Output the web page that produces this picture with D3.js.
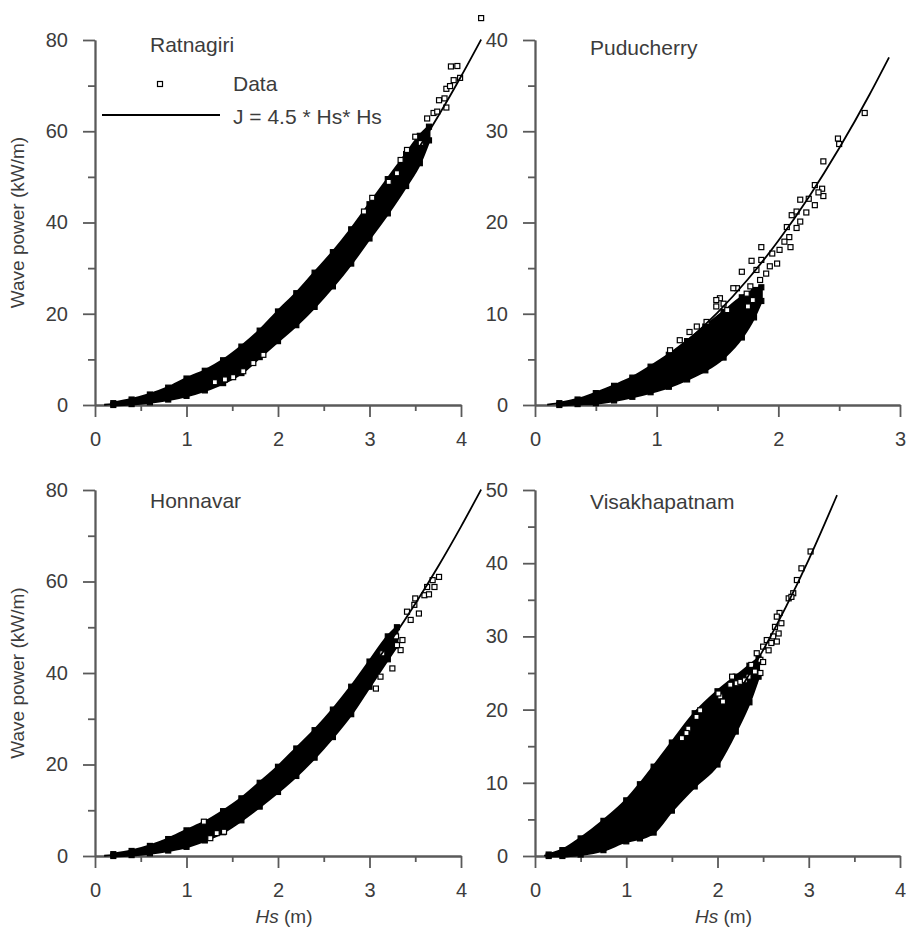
<!DOCTYPE html>
<html>
<head>
<meta charset="utf-8">
<script src="https://cdnjs.cloudflare.com/ajax/libs/d3/7.8.5/d3.min.js"></script>
<style>
  body { margin: 0; background: #fff; }
  text { font-family: "Liberation Sans", Arial, sans-serif; }
</style>
</head>
<body>
<div id="chart"></div>
<script>
// fitted curve J = 4.5 * Hs * Hs
var fitHs4 = [0.1, 0.25, 0.5, 0.75, 1, 1.25, 1.5, 1.75, 2, 2.25, 2.5, 2.75, 3, 3.25, 3.5, 3.75, 4, 4.22];
var fitJ4  = [0.05, 0.28, 1.13, 2.53, 4.5, 7.03, 10.13, 13.78, 18, 22.78, 28.13, 34.03, 40.5, 47.53, 55.13, 63.28, 72, 80.1];
var fitHsPud = [0.1, 0.25, 0.5, 0.75, 1, 1.25, 1.5, 1.75, 2, 2.25, 2.5, 2.75, 2.91];
var fitJPud  = [0.05, 0.28, 1.13, 2.53, 4.5, 7.03, 10.13, 13.78, 18, 22.78, 28.13, 34.03, 38.1];
var fitHsVis = [0.1, 0.25, 0.5, 0.75, 1, 1.25, 1.5, 1.75, 2, 2.25, 2.5, 2.75, 3, 3.31];
var fitJVis  = [0.05, 0.28, 1.13, 2.53, 4.5, 7.03, 10.13, 13.78, 18, 22.78, 28.13, 34.03, 40.5, 49.3];

// dense part of the data cloud : lower / upper edge
var ratBandHs   = [0.2, 0.4, 0.6, 0.8, 1.0, 1.2, 1.4, 1.6, 1.8, 2.0, 2.2, 2.4, 2.6, 2.8, 3.0, 3.2, 3.4, 3.55, 3.65];
var ratBandLow  = [0, 0.2, 0.6, 1.2, 2.0, 3.2, 4.8, 7.0, 10.5, 14, 17.5, 21.5, 26, 31, 36.5, 42, 48, 53, 58];
var ratBandHigh = [0.4, 1.2, 2.3, 3.8, 5.8, 7.5, 9.8, 12.8, 16.3, 20.5, 24.5, 29, 33.5, 38.5, 44, 49.5, 55, 59, 61];

var pudBandHs   = [0.2, 0.35, 0.5, 0.65, 0.8, 0.95, 1.1, 1.25, 1.4, 1.55, 1.7, 1.8, 1.86];
var pudBandLow  = [0, 0.1, 0.2, 0.5, 0.9, 1.4, 2.0, 2.8, 3.8, 5.2, 7.4, 9.6, 11.4];
var pudBandHigh = [0.2, 0.6, 1.3, 2.1, 3.0, 4.2, 5.5, 7.0, 8.6, 10.2, 11.8, 12.6, 12.9];

var honBandHs   = [0.2, 0.4, 0.6, 0.8, 1.0, 1.2, 1.4, 1.6, 1.8, 2.0, 2.2, 2.4, 2.6, 2.8, 3.0, 3.2, 3.3];
var honBandLow  = [0, 0.2, 0.6, 1.2, 2.0, 3.4, 5.2, 7.8, 10.8, 14, 17.5, 21.5, 26, 31, 37, 43, 46];
var honBandHigh = [0.4, 1.1, 2.2, 3.7, 5.6, 7.4, 9.8, 12.6, 16, 19.5, 23.5, 27.5, 32, 37, 42.5, 48, 50];

var visBandHs   = [0.15, 0.3, 0.5, 0.75, 1.0, 1.15, 1.3, 1.5, 1.75, 2.0, 2.2, 2.35, 2.45];
var visBandLow  = [0, 0, 0.2, 0.8, 2.0, 2.4, 3.2, 6.2, 9.5, 12.5, 17, 21, 24.5];
var visBandHigh = [0.2, 0.8, 2.4, 4.8, 7.6, 9.8, 12.2, 15.5, 19.5, 22.5, 24.5, 26, 27];

// scattered points
var ratHs = [4.22, 3.89, 3.96, 3.92, 3.99, 3.84, 3.88, 3.76, 3.82, 3.84, 3.70, 3.74, 3.63, 3.50, 3.56, 3.41, 3.34, 3.21, 3.30, 3.03, 2.94, 1.51, 1.31, 1.73, 1.84, 1.42, 1.62];
var ratJ  = [84.8, 74.2, 74.3, 71.2, 71.7, 69.3, 69.9, 66.8, 67.2, 65.2, 64.0, 64.3, 62.8, 58.8, 57.4, 55.9, 53.7, 48.9, 50.8, 45.4, 42.4, 6.1, 5.0, 9.2, 11.0, 5.6, 7.4];

var pudHs = [2.71, 2.49, 2.50, 2.37, 2.30, 2.36, 2.37, 2.33, 2.18, 2.25, 2.30, 2.23, 2.11, 2.15, 2.18, 2.15, 2.07, 2.09, 2.05, 2.10, 1.86, 1.78, 2.01, 1.95, 1.99, 1.93, 1.86, 1.90, 1.85, 1.82, 1.70, 1.66, 1.74, 1.77, 1.79, 1.75, 1.52, 1.49, 1.55, 1.58, 1.19, 1.11, 1.27, 1.33, 1.41, 1.49, 1.63];
var pudJ  = [32.0, 29.2, 28.6, 26.7, 24.1, 23.7, 22.9, 23.3, 22.5, 22.6, 21.9, 21.1, 20.8, 21.2, 20.1, 19.4, 19.5, 18.4, 17.9, 17.3, 17.3, 15.8, 17.0, 16.6, 15.5, 15.2, 15.9, 14.4, 13.7, 14.8, 14.6, 12.8, 12.2, 13.0, 11.5, 10.8, 11.7, 10.8, 11.1, 10.4, 7.1, 6.0, 8.0, 8.6, 9.1, 11.5, 12.8];

var honHs = [3.76, 3.69, 3.63, 3.60, 3.65, 3.71, 3.54, 3.49, 3.45, 3.41, 3.50, 3.34, 3.36, 3.29, 3.30, 3.25, 3.12, 3.07, 3.14, 1.19, 1.33, 1.41, 1.26];
var honJ  = [61.0, 60.3, 58.8, 57.0, 57.2, 58.8, 53.0, 54.9, 51.6, 53.4, 56.3, 45.0, 47.2, 48.0, 46.1, 41.0, 39.2, 36.6, 44.3, 7.5, 5.0, 5.3, 3.9];

var visHs = [3.02, 2.92, 2.87, 2.83, 2.78, 2.81, 2.68, 2.65, 2.63, 2.70, 2.67, 2.61, 2.54, 2.59, 2.65, 2.50, 2.56, 2.43, 2.47, 2.37, 2.50, 2.41, 2.34, 2.47, 2.16, 2.21, 2.14, 2.25, 2.30, 1.81, 1.77, 1.68, 1.61, 1.66, 2.03, 2.06, 2.01];
var visJ  = [41.6, 39.3, 37.7, 35.9, 35.2, 35.4, 33.2, 32.7, 31.3, 31.8, 30.4, 30.0, 29.5, 29.1, 29.3, 28.6, 28.1, 27.7, 26.8, 26.1, 26.5, 25.2, 24.5, 25.0, 24.5, 23.6, 23.4, 23.8, 24.0, 19.9, 19.0, 17.4, 16.1, 16.8, 21.8, 21.1, 22.2];

var svg = d3.select("#chart").append("svg")
            .attr("width", 906)
            .attr("height", 930);

var axisCol = "#5a5a5a";
var textCol = "#3c3c3c";

function panel(o){
	var x = d3.scaleLinear().domain([0, o.xMax]).range([o.left, o.right]);
	var y = d3.scaleLinear().domain([0, o.yMax]).range([o.bottom, o.top]);
	var g = svg.append("g");

	// minor ticks
	g.append("g")
	 .attr("transform", "translate(0," + o.bottom + ")")
	 .call(d3.axisBottom(x).tickValues(d3.range(0.5, o.xMax, 1)).tickSize(6).tickFormat("").tickSizeOuter(0));
	g.append("g")
	 .attr("transform", "translate(" + o.left + ",0)")
	 .call(d3.axisLeft(y).tickValues(d3.range(o.yStep / 2, o.yMax, o.yStep)).tickSize(7).tickFormat("").tickSizeOuter(0));
	// major ticks
	g.append("g")
	 .attr("transform", "translate(0," + o.bottom + ")")
	 .call(d3.axisBottom(x).tickValues(d3.range(0, o.xMax + 0.01, 1)).tickFormat(d3.format("d")).tickSize(12).tickPadding(15).tickSizeOuter(0));
	g.append("g")
	 .attr("transform", "translate(" + o.left + ",0)")
	 .call(d3.axisLeft(y).tickValues(d3.range(0, o.yMax + 0.01, o.yStep)).tickFormat(d3.format("d")).tickSize(12).tickPadding(15).tickSizeOuter(0));

	g.selectAll(".domain, .tick line")
	 .attr("stroke", axisCol)
	 .attr("stroke-width", 1.8);
	g.selectAll(".tick text")
	 .attr("fill", textCol)
	 .style("font-size", "20px")
	 .style("font-family", "Liberation Sans, Arial, sans-serif");

	// dense cloud
	var band = o.bandHs.map(function(h, i){ return {h: h, lo: o.bandLow[i], hi: o.bandHigh[i]}; });
	g.append("path")
	 .datum(band)
	 .attr("d", d3.area().x(function(d){ return x(d.h); }).y0(function(d){ return y(d.lo); }).y1(function(d){ return y(d.hi); }).curve(d3.curveMonotoneX))
	 .style("fill", "black")
	 .style("stroke", "black")
	 .style("stroke-width", 3)
	 .style("stroke-linejoin", "round");

	// edge squares for the rough look
	var edge = [];
	band.forEach(function(d){ edge.push([d.h, d.hi]); edge.push([d.h, d.lo]); });
	g.selectAll(".edge")
	 .data(edge)
	 .enter().append("rect")
	 .attr("x", function(d){ return x(d[0]) - 2.5; })
	 .attr("y", function(d){ return y(d[1]) - 2.5; })
	 .attr("width", 5)
	 .attr("height", 5)
	 .style("fill", "black")
	 .style("stroke", "black")
	 .style("stroke-width", 1.2);

	// scattered points
	var pts = o.ptHs.map(function(h, i){ return [h, o.ptJ[i]]; });
	g.selectAll(".pt")
	 .data(pts)
	 .enter().append("rect")
	 .attr("x", function(d){ return x(d[0]) - 2.5; })
	 .attr("y", function(d){ return y(d[1]) - 2.5; })
	 .attr("width", 5)
	 .attr("height", 5)
	 .style("fill", "white")
	 .style("stroke", "black")
	 .style("stroke-width", 1.2);

	// fit line
	var fit = o.fitHs.map(function(h, i){ return [h, o.fitJ[i]]; });
	g.append("path")
	 .datum(fit)
	 .attr("d", d3.line().x(function(d){ return x(d[0]); }).y(function(d){ return y(d[1]); }).curve(d3.curveMonotoneX))
	 .style("fill", "none")
	 .style("stroke", "black")
	 .style("stroke-width", 1.8);

	g.append("text")
	 .attr("x", o.left + 55)
	 .attr("y", o.top + o.titleDy)
	 .attr("fill", textCol)
	 .style("font-size", "21px")
	 .text(o.name);

	if(o.yLabel){
		g.append("text")
		 .attr("transform", "translate(24," + ((o.top + o.bottom) / 2) + ") rotate(-90)")
		 .attr("text-anchor", "middle")
		 .attr("fill", textCol)
		 .style("font-size", "19px")
		 .text("Wave power (kW/m)");
	}
	if(o.xLabel){
		var t = g.append("text")
		 .attr("x", (o.left + o.right) / 2 + 6)
		 .attr("y", o.bottom + 67)
		 .attr("text-anchor", "middle")
		 .attr("fill", textCol)
		 .style("font-size", "19px");
		t.append("tspan").style("font-style", "italic").text("Hs");
		t.append("tspan").text(" (m)");
	}
	return {x: x, y: y};
}

panel({name: "Ratnagiri", left: 95, right: 461, top: 40, bottom: 405, xMax: 4, yMax: 80, yStep: 20, titleDy: 12,
       bandHs: ratBandHs, bandLow: ratBandLow, bandHigh: ratBandHigh, ptHs: ratHs, ptJ: ratJ,
       fitHs: fitHs4, fitJ: fitJ4, yLabel: true});
panel({name: "Puducherry", left: 535, right: 900, top: 40, bottom: 405, xMax: 3, yMax: 40, yStep: 10, titleDy: 15,
       bandHs: pudBandHs, bandLow: pudBandLow, bandHigh: pudBandHigh, ptHs: pudHs, ptJ: pudJ,
       fitHs: fitHsPud, fitJ: fitJPud});
panel({name: "Honnavar", left: 95, right: 461, top: 490, bottom: 856, xMax: 4, yMax: 80, yStep: 20, titleDy: 18,
       bandHs: honBandHs, bandLow: honBandLow, bandHigh: honBandHigh, ptHs: honHs, ptJ: honJ,
       fitHs: fitHs4, fitJ: fitJ4, yLabel: true, xLabel: true});
panel({name: "Visakhapatnam", left: 535, right: 900, top: 490, bottom: 856, xMax: 4, yMax: 50, yStep: 10, titleDy: 19,
       bandHs: visBandHs, bandLow: visBandLow, bandHigh: visBandHigh, ptHs: visHs, ptJ: visJ,
       fitHs: fitHsVis, fitJ: fitJVis, xLabel: true});

// legend (top left panel)
svg.append("rect")
   .attr("x", 157.5)
   .attr("y", 81.5)
   .attr("width", 5)
   .attr("height", 5)
   .style("fill", "white")
   .style("stroke", "black")
   .style("stroke-width", 1.2);
svg.append("text")
   .attr("x", 233)
   .attr("y", 91)
   .attr("fill", textCol)
   .style("font-size", "21px")
   .text("Data");
svg.append("line")
   .attr("x1", 102)
   .attr("x2", 220)
   .attr("y1", 115)
   .attr("y2", 115)
   .style("stroke", "black")
   .style("stroke-width", 1.8);
svg.append("text")
   .attr("x", 233)
   .attr("y", 124)
   .attr("fill", textCol)
   .style("font-size", "21px")
   .text("J = 4.5 * Hs* Hs");
</script>
</body>
</html>
